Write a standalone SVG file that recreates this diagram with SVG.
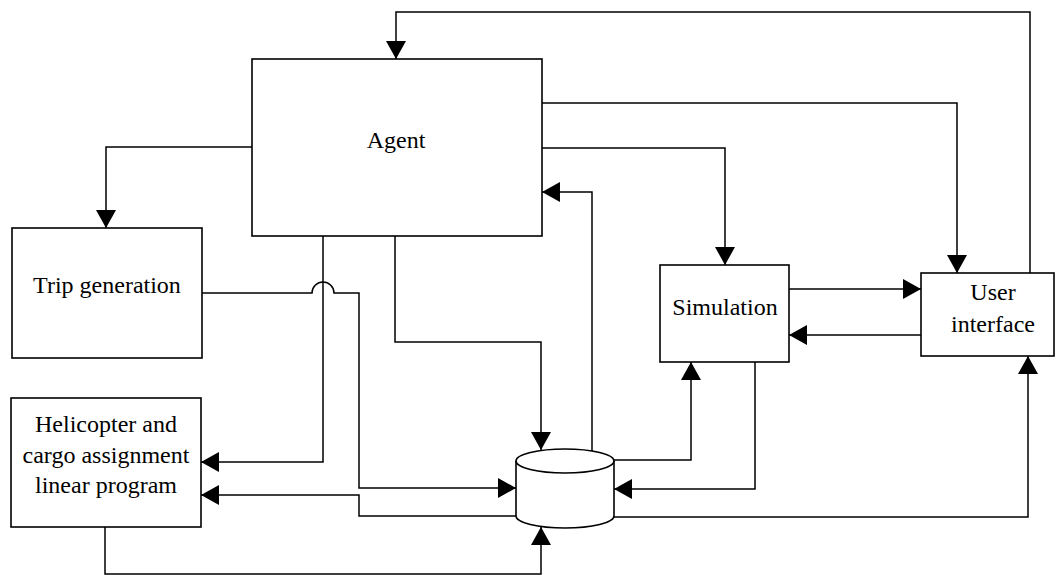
<svg xmlns="http://www.w3.org/2000/svg" width="1056" height="575" viewBox="0 0 1056 575">
<style>
.box{fill:#fff;stroke:#000;stroke-width:1.6}
.lbl{font-family:"Liberation Serif","Times New Roman",serif;font-size:24px;fill:#000;text-anchor:middle}
.con{fill:none;stroke:#000;stroke-width:1.5;marker-end:url(#arr)}
</style>
<defs>
<marker id="arr" markerUnits="userSpaceOnUse" viewBox="0 0 18 20" refX="18" refY="10" markerWidth="18" markerHeight="20" orient="auto">
<path d="M0,0 L18,10 L0,20 Z" fill="#000"/>
</marker>
</defs>
<rect width="1056" height="575" fill="#fff"/>
<g id="connectors">
<path class="con" d="M1030,273 V12 H396 V59"/>
<path class="con" d="M542,103 H957 V273"/>
<path class="con" d="M542,148 H725 V265"/>
<path class="con" d="M592,451 V192 H542"/>
<path class="con" d="M252,147 H106 V228"/>
<path class="con" d="M323,236 V462 H201"/>
<path class="con" d="M202,293 H312 A11,11 0 0 1 334,293 H359 V488 H516"/>
<path class="con" d="M516,516 H359 V495 H201"/>
<path class="con" d="M105,527 V574 H541 V527"/>
<path class="con" d="M395,236 V342 H541 V450"/>
<path class="con" d="M614,460 H691 V362"/>
<path class="con" d="M755,362 V489 H614"/>
<path class="con" d="M614,517 H1028 V356"/>
<path class="con" d="M789,289 H921"/>
<path class="con" d="M921,335 H789"/>
</g>
<g id="agent">
<rect class="box" x="252" y="59" width="290" height="177"/>
<text class="lbl" x="396" y="148">Agent</text>
</g>
<g id="trip-generation">
<rect class="box" x="12" y="228" width="190" height="130"/>
<text class="lbl" x="107" y="293">Trip generation</text>
</g>
<g id="helicopter-lp">
<rect class="box" x="11" y="398" width="190" height="129"/>
<text class="lbl" x="106" y="432">Helicopter and</text>
<text class="lbl" x="106" y="463">cargo assignment</text>
<text class="lbl" x="106" y="493">linear program</text>
</g>
<g id="simulation">
<rect class="box" x="660" y="265" width="129" height="97"/>
<text class="lbl" x="725" y="315">Simulation</text>
</g>
<g id="user-interface">
<rect class="box" x="921" y="273" width="133" height="83"/>
<text class="lbl" x="993" y="300">User</text>
<text class="lbl" x="993" y="332">interface</text>
</g>
<g id="database">
<path class="box" d="M516,461 A49,12 0 0 1 614,461 V516 A49,12 0 0 1 516,516 Z"/>
<path d="M516,461 A49,12 0 0 0 614,461" fill="none" stroke="#000" stroke-width="1.6"/>
</g>
</svg>
